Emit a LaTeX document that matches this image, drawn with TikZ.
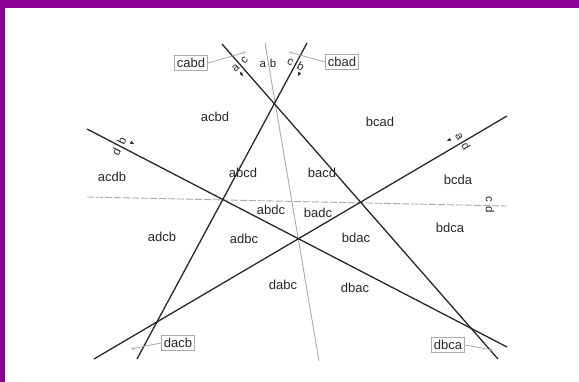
\documentclass[tikz,border=0pt]{standalone}
\usepackage{fontspec}
\setmainfont{Liberation Sans}
\usetikzlibrary{arrows.meta}
\definecolor{frame}{RGB}{140,0,150}
\definecolor{ink}{RGB}{40,40,40}
\definecolor{thin}{RGB}{170,170,170}
\begin{document}
\begin{tikzpicture}[x=1pt,y=-1pt,
  font=\fontsize{13}{15}\selectfont, text=ink,
  pseudo/.style={draw=ink, line width=1.3pt},
  guide/.style={draw=thin, line width=0.9pt},
  region/.style={inner sep=0pt},
  tag/.style={inner sep=0pt, font=\fontsize{11.5}{13}\selectfont},
  permbox/.style={draw=thin, line width=0.9pt, inner sep=2.5pt, fill=white},
  leader/.style={draw=thin, line width=0.8pt, -{Stealth[length=3pt,width=2.5pt]}},
  tip/.style={-{Triangle[length=3.5pt,width=3pt]}, draw=ink, line width=0.6pt}]
  % canvas and frame
  \fill[white] (0,0) rectangle (579,382);
  \useasboundingbox (0,0) rectangle (579,382);
  \fill[frame] (0,0) rectangle (579,8);
  \fill[frame] (0,0) rectangle (5,382);

  % guide lines
  \draw[guide] (265,43) -- (319,361);
  \draw[guide, dash pattern=on 7pt off 2pt] (87,197) -- (507,206);

  % pseudolines
  \draw[pseudo] (222,44) -- (498,359);
  \draw[pseudo] (307,43) -- (137,359);
  \draw[pseudo] (507,116) -- (94,359);
  \draw[pseudo] (87,129) -- (507,347);

  % line labels, one letter on each side of its line
  \node[tag] (lab) at (268,63) {a\hspace{4pt}b};
  \node[tag, rotate=-90] (lcd) at (490,205) {c\hspace{4pt}d};
  \node[tag, rotate=41] (lac) at (240,64) {a\hspace{5.5pt}c};
  \node[tag, rotate=-28] (lcb) at (296,64) {c\hspace{5.5pt}b};
  \node[tag, rotate=-59.5] (lad) at (463,141) {a\hspace{5.5pt}d};
  \node[tag, rotate=62.6] (ldb) at (119,146) {d\hspace{5.5pt}b};

  % orientation marks
  \draw[tip] (240,72) -- (243,76);
  \draw[tip] (300,72) -- (298,76);
  \draw[tip] (451,139) -- (447,141);
  \draw[tip] (130,142) -- (134,144);

  % regions
  \node[region] (acbd) at (215,117) {acbd};
  \node[region] (bcad) at (380,122) {bcad};
  \node[region] (abcd) at (243,173) {abcd};
  \node[region] (bacd) at (322,173) {bacd};
  \node[region] (acdb) at (112,177) {acdb};
  \node[region] (bcda) at (458,180) {bcda};
  \node[region] (abdc) at (271,210) {abdc};
  \node[region] (badc) at (318,213) {badc};
  \node[region] (adcb) at (162,237) {adcb};
  \node[region] (adbc) at (244,239) {adbc};
  \node[region] (bdac) at (356,238) {bdac};
  \node[region] (bdca) at (450,228) {bdca};
  \node[region] (dabc) at (283,285) {dabc};
  \node[region] (dbac) at (355,288) {dbac};

  % small regions with boxed labels
  \node[permbox] (cabd) at (191,63) {cabd};
  \node[permbox] (cbad) at (342,62) {cbad};
  \node[permbox] (dacb) at (178,343) {dacb};
  \node[permbox] (dbca) at (448,345) {dbca};
  \coordinate (pcabd) at (246,52);
  \coordinate (pcbad) at (289,52);
  \coordinate (pdacb) at (131,349);
  \coordinate (pdbca) at (493,350);
  \draw[leader] (cabd.east) -- (pcabd);
  \draw[leader] (cbad.west) -- (pcbad);
  \draw[leader] (dacb.west) -- (pdacb);
  \draw[leader] (dbca.east) -- (pdbca);
\end{tikzpicture}
\end{document}
